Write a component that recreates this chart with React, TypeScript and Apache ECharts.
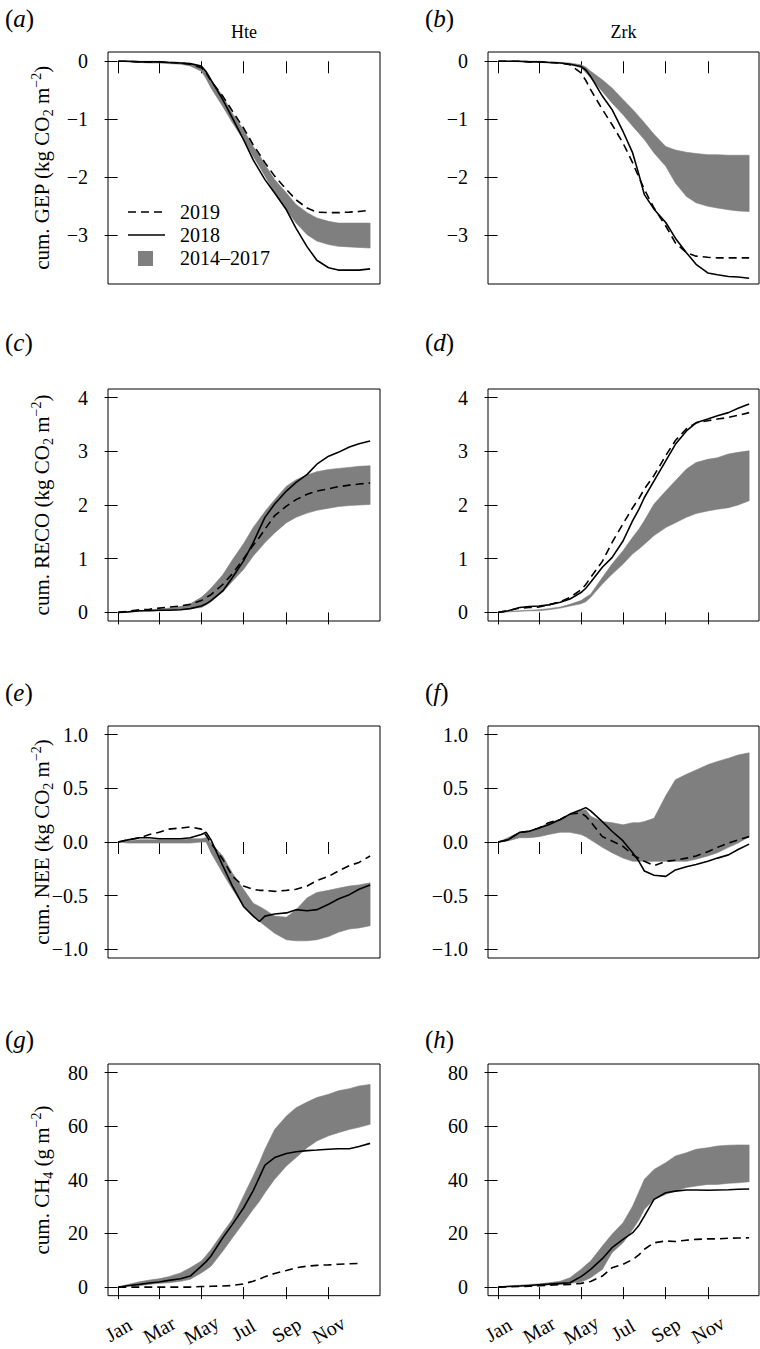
import React, { useEffect, useRef } from 'react';
import * as echarts from 'echarts';

const FONT = 'Liberation Serif';

// Day of year sampling
const days = [1, 15, 32, 46, 60, 74, 91, 105, 121, 128, 135, 152, 166, 182, 196, 205, 213, 227, 244, 258, 274, 288, 305, 319, 335, 349, 365];
const monthTicks = [1, 60, 121, 182, 244, 305];
const monthLabels = ['Jan', 'Mar', 'May', 'Jul', 'Sep', 'Nov'];

// (a) GEP Hte
const gepHte2019 = [0, 0, -0.01, -0.01, -0.01, -0.02, -0.03, -0.05, -0.11, -0.2, -0.34, -0.6, -0.86, -1.15, -1.44, -1.6, -1.75, -1.98, -2.21, -2.39, -2.53, -2.6, -2.61, -2.61, -2.6, -2.59, -2.57];
const gepHte2018 = [0, 0, -0.01, -0.01, -0.01, -0.02, -0.03, -0.04, -0.08, -0.18, -0.32, -0.66, -0.98, -1.35, -1.7, -1.88, -2.04, -2.27, -2.56, -2.88, -3.2, -3.43, -3.56, -3.6, -3.6, -3.6, -3.58];
const gepHteLo = [0, -0.01, -0.02, -0.03, -0.03, -0.04, -0.05, -0.08, -0.17, -0.3, -0.46, -0.78, -1.06, -1.35, -1.64, -1.82, -1.98, -2.27, -2.56, -2.79, -2.99, -3.1, -3.16, -3.19, -3.2, -3.21, -3.22];
const gepHteHi = [0, 0, 0, 0, 0, -0.01, -0.02, -0.04, -0.09, -0.19, -0.32, -0.6, -0.9, -1.18, -1.47, -1.62, -1.78, -2.04, -2.27, -2.47, -2.61, -2.7, -2.76, -2.79, -2.79, -2.79, -2.79];

// (b) GEP Zrk
const gepZrk2019 = [0, 0, 0, -0.01, -0.01, -0.02, -0.03, -0.06, -0.2, -0.33, -0.49, -0.83, -1.09, -1.41, -1.75, -2.0, -2.21, -2.53, -2.84, -3.13, -3.3, -3.36, -3.38, -3.39, -3.39, -3.39, -3.39];
const gepZrk2018 = [0, 0, 0, -0.01, -0.01, -0.02, -0.03, -0.05, -0.09, -0.15, -0.26, -0.6, -0.83, -1.21, -1.58, -1.95, -2.3, -2.55, -2.78, -3.05, -3.3, -3.5, -3.65, -3.68, -3.71, -3.72, -3.74];
const gepZrkLo = [0, 0, -0.01, -0.01, -0.01, -0.02, -0.03, -0.05, -0.11, -0.19, -0.29, -0.52, -0.72, -0.92, -1.12, -1.24, -1.35, -1.58, -1.81, -2.1, -2.33, -2.44, -2.5, -2.53, -2.56, -2.58, -2.59];
const gepZrkHi = [0, 0, 0, 0, 0, -0.01, -0.02, -0.03, -0.06, -0.1, -0.17, -0.32, -0.46, -0.66, -0.83, -0.95, -1.06, -1.26, -1.47, -1.53, -1.57, -1.59, -1.61, -1.61, -1.62, -1.62, -1.62];

// (c) RECO Hte
const recoHte2019 = [0, 0.02, 0.05, 0.06, 0.08, 0.1, 0.12, 0.15, 0.22, 0.28, 0.33, 0.52, 0.72, 1.0, 1.25, 1.4, 1.55, 1.8, 1.98, 2.1, 2.2, 2.26, 2.3, 2.34, 2.37, 2.39, 2.41];
const recoHte2018 = [0, 0.01, 0.03, 0.03, 0.04, 0.04, 0.05, 0.07, 0.12, 0.16, 0.22, 0.4, 0.65, 0.96, 1.3, 1.55, 1.77, 2.02, 2.26, 2.42, 2.57, 2.76, 2.91, 2.98, 3.08, 3.14, 3.19];
const recoHteLo = [0, 0.01, 0.02, 0.03, 0.03, 0.04, 0.05, 0.07, 0.09, 0.14, 0.2, 0.38, 0.58, 0.8, 1.05, 1.18, 1.3, 1.48, 1.67, 1.77, 1.85, 1.9, 1.94, 1.97, 1.99, 2.0, 2.01];
const recoHteHi = [0, 0.01, 0.03, 0.05, 0.06, 0.08, 0.11, 0.16, 0.28, 0.36, 0.45, 0.7, 0.98, 1.28, 1.58, 1.74, 1.88, 2.1, 2.35, 2.47, 2.56, 2.62, 2.66, 2.68, 2.7, 2.72, 2.73];

// (d) RECO Zrk
const recoZrk2019 = [0, 0.03, 0.08, 0.09, 0.1, 0.14, 0.2, 0.28, 0.42, 0.52, 0.65, 0.95, 1.3, 1.65, 1.95, 2.12, 2.3, 2.55, 2.92, 3.2, 3.42, 3.53, 3.57, 3.6, 3.63, 3.67, 3.72];
const recoZrk2018 = [0, 0.03, 0.09, 0.11, 0.12, 0.14, 0.19, 0.25, 0.37, 0.45, 0.56, 0.84, 1.02, 1.33, 1.71, 1.92, 2.14, 2.45, 2.82, 3.13, 3.38, 3.53, 3.6, 3.66, 3.72, 3.8, 3.88];
const recoZrkLo = [0, 0.01, 0.02, 0.03, 0.03, 0.05, 0.08, 0.12, 0.16, 0.2, 0.28, 0.53, 0.71, 0.9, 1.09, 1.18, 1.27, 1.43, 1.58, 1.67, 1.77, 1.84, 1.89, 1.92, 1.95, 2.0, 2.08];
const recoZrkHi = [0, 0.02, 0.03, 0.04, 0.05, 0.07, 0.1, 0.15, 0.22, 0.28, 0.34, 0.65, 0.9, 1.15, 1.4, 1.55, 1.71, 2.02, 2.26, 2.45, 2.67, 2.79, 2.85, 2.88, 2.95, 2.98, 3.01];

// (e) NEE Hte
const neeHte2019 = [0, 0.02, 0.04, 0.07, 0.09, 0.12, 0.13, 0.14, 0.12, 0.06, -0.01, -0.16, -0.32, -0.41, -0.44, -0.45, -0.45, -0.46, -0.45, -0.44, -0.41, -0.36, -0.32, -0.27, -0.22, -0.19, -0.13];
const neeHte2018 = [0, 0.02, 0.04, 0.04, 0.03, 0.03, 0.03, 0.04, 0.07, 0.09, 0.02, -0.22, -0.41, -0.6, -0.69, -0.74, -0.69, -0.67, -0.66, -0.63, -0.64, -0.63, -0.58, -0.53, -0.49, -0.44, -0.4];
const neeHteLo = [0, -0.01, -0.01, -0.01, -0.01, -0.01, -0.01, -0.01, 0, 0, -0.1, -0.29, -0.44, -0.6, -0.69, -0.74, -0.78, -0.85, -0.91, -0.92, -0.92, -0.91, -0.88, -0.84, -0.81, -0.8, -0.78];
const neeHteHi = [0, 0.01, 0.02, 0.02, 0.02, 0.02, 0.02, 0.03, 0.03, 0.04, -0.01, -0.13, -0.29, -0.44, -0.57, -0.6, -0.63, -0.69, -0.7, -0.63, -0.52, -0.47, -0.45, -0.43, -0.41, -0.4, -0.38];

// (f) NEE Zrk
const neeZrk2019 = [0, 0.02, 0.09, 0.1, 0.13, 0.18, 0.21, 0.26, 0.27, 0.24, 0.19, 0.05, 0.01, -0.04, -0.12, -0.15, -0.18, -0.22, -0.18, -0.17, -0.15, -0.13, -0.09, -0.05, -0.01, 0.02, 0.05];
const neeZrk2018 = [0, 0.02, 0.09, 0.1, 0.13, 0.16, 0.21, 0.26, 0.3, 0.32, 0.29, 0.19, 0.1, 0.01, -0.1, -0.18, -0.27, -0.31, -0.32, -0.26, -0.23, -0.21, -0.18, -0.15, -0.12, -0.07, -0.02];
const neeZrkLo = [0, 0.01, 0.04, 0.04, 0.05, 0.07, 0.09, 0.09, 0.07, 0.05, 0.02, -0.05, -0.1, -0.15, -0.18, -0.18, -0.18, -0.18, -0.18, -0.18, -0.18, -0.16, -0.13, -0.1, -0.05, -0.01, 0.05];
const neeZrkHi = [0, 0.04, 0.09, 0.1, 0.13, 0.18, 0.21, 0.26, 0.29, 0.3, 0.24, 0.19, 0.18, 0.16, 0.18, 0.18, 0.19, 0.22, 0.43, 0.58, 0.63, 0.67, 0.72, 0.75, 0.78, 0.81, 0.83];

// (g) CH4 Hte
const chHte2019 = [0, 0, 0, 0, 0, 0, 0, 0, 0.2, 0.2, 0.3, 0.4, 0.6, 1.2, 2.2, 3.0, 3.9, 5.1, 6.2, 7.2, 7.8, 8.1, 8.3, 8.5, 8.7, 8.8, null];
const chHte2018 = [0, 0.5, 1.0, 1.5, 1.9, 2.5, 3.1, 4.1, 7.8, 9.5, 11.6, 18.4, 23.4, 29.5, 36, 41, 45.5, 48.3, 49.8, 50.5, 50.9, 51.1, 51.4, 51.6, 51.6, 52.4, 53.6];
const chHteLo = [0, 0.4, 0.6, 1.0, 1.4, 1.6, 2.2, 2.9, 5.3, 6.5, 7.8, 13.4, 18.4, 24, 29, 32, 35.2, 40.2, 45.2, 48.3, 52, 54.5, 56.4, 57.6, 58.8, 59.6, 60.7];
const chHteHi = [0, 1, 2, 2.6, 3.1, 3.9, 5.3, 7.2, 9.7, 11.8, 14, 20.3, 25.3, 34, 41.4, 46.5, 51.4, 58.8, 63.8, 66.9, 69, 70.7, 71.9, 73.2, 74, 75, 75.6];

// (h) CH4 Zrk
const chZrk2019 = [0, 0.1, 0.2, 0.3, 0.5, 0.7, 0.9, 1.0, 1.4, 1.7, 2.1, 4.1, 7.2, 8.5, 10.3, 12, 14.1, 16.5, 17.2, 17, 17.5, 17.8, 18, 18, 18.2, 18.3, 18.4];
const chZrk2018 = [0, 0.2, 0.4, 0.6, 0.9, 1.1, 1.4, 1.6, 3.9, 5.2, 6.6, 10.6, 14.7, 17.8, 20.3, 23, 26.5, 32.7, 35.2, 35.8, 36.2, 36.2, 36.1, 36.2, 36.3, 36.5, 36.6];
const chZrkLo = [0, 0.2, 0.4, 0.5, 0.6, 0.8, 1.0, 1.4, 1.9, 2.6, 3.5, 6.6, 12.8, 16.5, 21.5, 25, 29, 32.7, 34.6, 35.8, 37.1, 37.7, 38.3, 38.3, 38.7, 38.9, 39.3];
const chZrkHi = [0, 0.4, 0.7, 1.0, 1.2, 1.6, 2.2, 3.5, 6.6, 8.2, 9.7, 15.3, 19.7, 24, 30.2, 35.5, 40.2, 43.9, 46.4, 48.9, 50.1, 51.4, 52, 52.6, 52.9, 53, 53];

// Y axis ticks per row
const yTicksGEP = [-3, -2, -1, 0];
const yTicksRECO = [0, 1, 2, 3, 4];
const yTicksNEE = [-1, -0.5, 0, 0.5, 1];
const yTicksCH4 = [0, 20, 40, 60, 80];

const legendNames = ['2019', '2018', '2014\u20132017'];
const siteNames = ['Hte', 'Zrk'];
const panelLetters = ['a', 'b', 'c', 'd', 'e', 'f', 'g', 'h'];

const rows = [
  { min: -3.84, max: 0.16, ticks: yTicksGEP, dec: 0, name: 'cum. GEP (kg CO{sub|2} m{sup|\u22122})' },
  { min: -0.16, max: 4.16, ticks: yTicksRECO, dec: 0, name: 'cum. RECO (kg CO{sub|2} m{sup|\u22122})' },
  { min: -1.08, max: 1.08, ticks: yTicksNEE, dec: 1, name: 'cum. NEE (kg CO{sub|2} m{sup|\u22122})' },
  { min: -3.2, max: 83.2, ticks: yTicksCH4, dec: 0, name: 'cum. CH{sub|4} (g m{sup|\u22122})' },
];

const panels = [
  { s2019: gepHte2019, s2018: gepHte2018, lo: gepHteLo, hi: gepHteHi },
  { s2019: gepZrk2019, s2018: gepZrk2018, lo: gepZrkLo, hi: gepZrkHi },
  { s2019: recoHte2019, s2018: recoHte2018, lo: recoHteLo, hi: recoHteHi },
  { s2019: recoZrk2019, s2018: recoZrk2018, lo: recoZrkLo, hi: recoZrkHi },
  { s2019: neeHte2019, s2018: neeHte2018, lo: neeHteLo, hi: neeHteHi },
  { s2019: neeZrk2019, s2018: neeZrk2018, lo: neeZrkLo, hi: neeZrkHi },
  { s2019: chHte2019, s2018: chHte2018, lo: chHteLo, hi: chHteHi },
  { s2019: chZrk2019, s2018: chZrk2018, lo: chZrkLo, hi: chZrkHi },
];

// Layout
const colLeft = [108, 488];
const colWidth = [272, 271];
const rowTop = [52, 389, 726, 1064];
const boxH = 232;
const letterY = [18, 342, 692, 1039];
const BAND = '#7f7f7f';

function buildOption() {
  const grid: any[] = [];
  const xAxis: any[] = [];
  const yAxis: any[] = [];
  const series: any[] = [];
  const graphic: any[] = [];

  panels.forEach((p, i) => {
    const r = Math.floor(i / 2);
    const c = i % 2;
    const row = rows[r];
    grid.push({
      left: colLeft[c], top: rowTop[r], width: colWidth[c], height: boxH,
      show: true, borderColor: '#000', borderWidth: 1, backgroundColor: 'transparent',
    });
    xAxis.push({
      type: 'value', gridIndex: i, min: -13.9, max: 379.3, offset: 3,
      axisLine: { show: false },
      axisTick: { show: true, length: 12, customValues: monthTicks, lineStyle: { color: '#000', width: 1 } },
      axisLabel: {
        show: r === 3, customValues: monthTicks,
        formatter: (v: number) => '{m|' + (monthLabels[monthTicks.indexOf(v)] ?? '') + '}',
        rotate: 30, align: 'center', verticalAlign: 'middle', margin: 31,
        fontFamily: FONT, fontSize: 20, color: '#000',
        rich: { m: { fontFamily: FONT, fontSize: 20, color: '#000' } },
      },
      splitLine: { show: false },
    });
    yAxis.push({
      type: 'value', gridIndex: i, min: row.min, max: row.max,
      axisLine: { show: false },
      axisTick: { show: true, length: 13, customValues: row.ticks, lineStyle: { color: '#000', width: 1 } },
      axisLabel: {
        customValues: row.ticks, margin: 20, fontFamily: FONT, fontSize: 20, color: '#000',
        formatter: (v: number) => '{t|' + v.toFixed(row.dec).replace('-', '\u2212') + '}',
        rich: { t: { fontFamily: FONT, fontSize: 20, color: '#000' } },
      },
      splitLine: { show: false },
    });
    // 2014–2017 range band as one polygon through the axis scales
    series.push({
      type: 'custom', xAxisIndex: i, yAxisIndex: i, name: legendNames[2], silent: true,
      data: days.map((d, k) => [d, p.lo[k], p.hi[k]]),
      encode: { x: 0, y: [1, 2] },
      renderItem: (params: any, api: any) => {
        if (params.dataIndex !== 0) return null;
        const upper = days.map((d, k) => api.coord([d, p.hi[k]]));
        const lower = days.map((d, k) => api.coord([d, p.lo[k]])).reverse();
        return {
          type: 'polygon',
          shape: { points: upper.concat(lower) },
          style: { fill: BAND, stroke: BAND, lineWidth: 0.6 },
        };
      },
    });
    series.push({
      type: 'line', xAxisIndex: i, yAxisIndex: i, name: legendNames[1],
      data: days.map((d, k) => [d, p.s2018[k]]), symbol: 'none',
      lineStyle: { color: '#000', width: 1.6 },
    });
    series.push({
      type: 'line', xAxisIndex: i, yAxisIndex: i, name: legendNames[0],
      data: days.map((d, k) => [d, p.s2019[k]]), symbol: 'none',
      lineStyle: { color: '#000', width: 1.6, type: [8, 5] },
    });

    // panel letter
    graphic.push({
      type: 'text', x: c === 0 ? 5 : 425, y: letterY[r],
      style: {
        text: '({i|' + panelLetters[i] + '})', fill: '#000', fontFamily: FONT, fontSize: 25,
        verticalAlign: 'middle', align: 'left',
        rich: { i: { fontStyle: 'italic', fontFamily: FONT, fontSize: 25, fill: '#000' } },
      },
    });
  });

  // site titles
  siteNames.forEach((s, c) => {
    graphic.push({
      type: 'text', x: colLeft[c] + colWidth[c] / 2, y: 32,
      style: { text: s, fill: '#000', fontFamily: FONT, fontSize: 18, align: 'center', verticalAlign: 'middle' },
    });
  });

  // y axis names (left column)
  rows.forEach((row, r) => {
    graphic.push({
      type: 'text', x: 42, y: rowTop[r] + boxH / 2, rotation: Math.PI / 2,
      style: {
        text: row.name, fill: '#000', fontFamily: FONT, fontSize: 21, lineHeight: 26,
        align: 'center', verticalAlign: 'middle',
        rich: {
          sub: { fontFamily: FONT, fontSize: 14, lineHeight: 14, verticalAlign: 'bottom', fill: '#000' },
          sup: { fontFamily: FONT, fontSize: 14, lineHeight: 14, verticalAlign: 'top', fill: '#000' },
        },
      },
    });
  });

  // legend in panel (a)
  graphic.push(
    { type: 'line', shape: { x1: 128, y1: 212, x2: 165, y2: 212 }, style: { stroke: '#000', lineWidth: 1.6, lineDash: [8, 5] } },
    { type: 'text', x: 180, y: 212, style: { text: legendNames[0], fill: '#000', fontFamily: FONT, fontSize: 20, verticalAlign: 'middle' } },
    { type: 'line', shape: { x1: 128, y1: 235, x2: 165, y2: 235 }, style: { stroke: '#000', lineWidth: 1.6 } },
    { type: 'text', x: 180, y: 235, style: { text: legendNames[1], fill: '#000', fontFamily: FONT, fontSize: 20, verticalAlign: 'middle' } },
    { type: 'rect', shape: { x: 138, y: 251, width: 15, height: 15 }, style: { fill: BAND } },
    { type: 'text', x: 180, y: 258, style: { text: legendNames[2], fill: '#000', fontFamily: FONT, fontSize: 20, verticalAlign: 'middle' } },
  );

  return {
    animation: false,
    backgroundColor: '#fff',
    textStyle: { fontFamily: FONT },
    grid, xAxis, yAxis, series, graphic,
  };
}

export default function App() {
  const ref = useRef<HTMLDivElement>(null);
  useEffect(() => {
    document.body.style.margin = '0';
    const chart = echarts.init(ref.current as HTMLDivElement, null, { renderer: 'svg' });
    chart.setOption(buildOption() as any);
    return () => chart.dispose();
  }, []);
  return <div ref={ref} style={{ width: 760, height: 1349 }} />;
}
